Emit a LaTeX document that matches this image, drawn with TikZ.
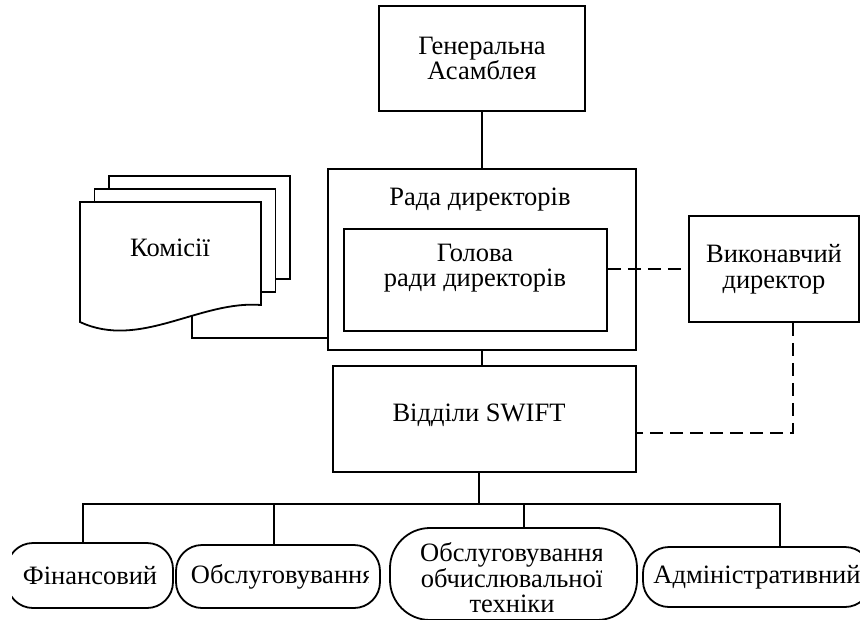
\documentclass[tikz,border=0pt]{standalone}
\usepackage{fontspec}
\setmainfont{Liberation Serif}
\usetikzlibrary{calc}

\begin{document}
\begin{tikzpicture}[x=1pt, y=-1pt, line width=1.8pt,
  every node/.style={font=\fontsize{26.5}{25.5}\selectfont, align=center, inner sep=0pt},
  box/.style={draw, rectangle},
  dept/.style={draw, rectangle, rounded corners=26pt},
  link/.style={dash pattern=on 13pt off 7pt}]
\useasboundingbox (0,0) rectangle (860,619);

\node[box, minimum width=206pt, minimum height=105pt] (ga) at (482,58.5) {Генеральна\\Асамблея};
\node[box, minimum width=308pt, minimum height=181pt] (rada) at (482,259.5) {};
\node (radat) at (480,200) {Рада директорів};
\node[box, minimum width=263pt, minimum height=102pt] (head) at (475.5,280) {};
\node (headt) at (475,268) {Голова\\ради директорів};
\node[box, minimum width=170pt, minimum height=106pt] (exec) at (774,269) {Виконавчий\\директор};
\node[box, minimum width=303pt, minimum height=106pt] (swift) at (484.5,419) {};
\node (swiftt) at (479,415) {Відділи SWIFT};

\draw (ga.south) -- (ga.south |- rada.north);
\draw (rada.south) -- (rada.south |- swift.north);
\draw[link] (head.east |- exec.west) -- (exec.west);
\coordinate (dd) at (793,433);
\draw[link] (exec.south -| dd) -- (dd) -- (dd -| swift.east);

% commissions (stack of sheets)
\coordinate (kj) at (192,338);
\draw (192,300) -- (kj) -- (kj -| rada.west);
\foreach \d in {2,1}
  \draw[fill=white] ($(80,202)+(14.5*\d,-13*\d)$) rectangle ($(261,305)+(14.5*\d,-13*\d)$);
\draw[fill=white] (80,322) -- (80,202) -- (261,202) -- (261,305)
  .. controls (200,300) and (140,350) .. cycle;
\node (kom) at (170,248) {Комісії};

% departments
\begin{scope}
\clip (12,0) rectangle (860,619);
\node[dept, minimum width=166pt, minimum height=65pt] (fin) at (90,575.5) {Фінансовий};
\end{scope}
\node[dept, minimum width=204pt, minimum height=63pt] (serv) at (278,576.5) {};
\node[dept, rounded corners=40pt, minimum width=247pt, minimum height=92pt] (comp) at (513.5,574) {};
\node[dept, minimum width=228pt, minimum height=60pt] (adm) at (757,577) {Адміністративний};
\begin{scope}
\clip (serv.north west) rectangle (368,610);
\node[anchor=west] (servt) at (190,576.5) {Обслуговування};
\end{scope}
\begin{scope}
\clip (comp.north west) rectangle (601,620);
\node (compt) at (512,578) {Обслуговування\\обчислювальної\\техніки};
\end{scope}

\coordinate (bus) at (479,504);
\draw (swift.south -| bus) -- (bus);
\draw (83,504 |- fin.north) |- (bus) -| (780,504 |- adm.north);
\draw (274,504) -- (274,504 |- serv.north);
\draw (524,504) -- (524,504 |- comp.north);
\end{tikzpicture}
\end{document}
